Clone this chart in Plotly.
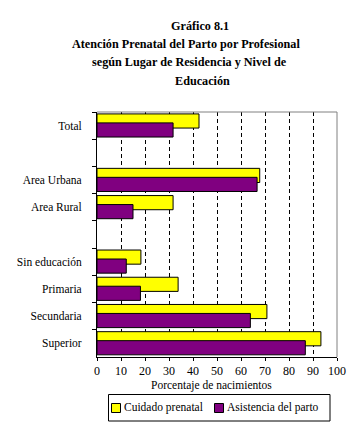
import plotly.graph_objects as go

categories = ["Total", " ", "Area Urbana", "Area Rural", "  ",
              "Sin educación", "Primaria", "Secundaria", "Superior"]
cuidado_prenatal = [42.5, None, 67.8, 31.7, None, 18.3, 33.8, 70.8, 93.3]
asistencia_parto = [31.7, None, 66.7, 15.0, None, 12.2, 18.1, 63.9, 86.8]
series_names = ["Cuidado prenatal", "Asistencia del parto"]
series_colors = ["#FFFF00", "#800080"]
x_ticks = list(range(0, 101, 10))
title_lines = ["Gráfico 8.1",
               "Atención Prenatal del Parto por Profesional",
               "según Lugar de Residencia y Nivel de",
               "Educación"]

# The page body adds an 8px offset, so the figure is drawn 8px smaller.
OFF = 8
W, H = 355 - OFF, 424 - OFF
ML, MT = 97 - OFF, 112 - OFF
PW, PH = 240, 245
MR, MB = W - ML - PW, H - MT - PH
SERIF = "Liberation Serif, Times New Roman, serif"


def px_x(x):
    """Convert a window x pixel to paper coordinates."""
    return (x - OFF - ML) / PW


def px_y(y):
    """Convert a window y pixel to paper coordinates."""
    return (H - MB - (y - OFF)) / PH


fig = go.Figure()
fig.add_trace(go.Bar(
    y=categories, x=cuidado_prenatal, orientation="h", name=series_names[0],
    marker=dict(color=series_colors[0], line=dict(color="black", width=1)),
    width=0.52, offset=-0.43,
))
fig.add_trace(go.Bar(
    y=categories, x=asistencia_parto, orientation="h", name=series_names[1],
    marker=dict(color=series_colors[1], line=dict(color="black", width=1)),
    width=0.52, offset=-0.10,
))

title_x = [200, 186, 189, 202]
title_y = [26, 44, 62, 81]
annotations = []
for t, tx, ty in zip(title_lines, title_x, title_y):
    annotations.append(dict(
        text="<b>" + t + "</b>", x=px_x(tx), y=px_y(ty), xref="paper", yref="paper",
        xanchor="center", yanchor="middle", showarrow=False,
        font=dict(family=SERIF, size=12.2, color="black")))
annotations.append(dict(
    text="Porcentaje de nacimientos", x=px_x(211), y=px_y(385), xref="paper", yref="paper",
    xanchor="center", yanchor="middle", showarrow=False,
    font=dict(family=SERIF, size=11.5, color="black")))

shapes = [
    dict(type="line", xref="x domain", yref="y domain", x0=0, x1=1, y0=1, y1=1,
         line=dict(color="#808080", width=1)),
    dict(type="line", xref="x domain", yref="y domain", x0=1, x1=1, y0=0, y1=1,
         line=dict(color="#808080", width=1)),
    # legend box
    dict(type="rect", xref="paper", yref="paper",
         x0=px_x(108.5), x1=px_x(330), y0=px_y(394.5), y1=px_y(421),
         line=dict(color="black", width=1), fillcolor="white"),
]
legend_sq_x = [111.5, 214.5]
legend_txt_x = [122, 225]
for name, color, sx, tx in zip(series_names, series_colors, legend_sq_x, legend_txt_x):
    shapes.append(dict(type="rect", xref="paper", yref="paper",
                       x0=px_x(sx), x1=px_x(sx + 9), y0=px_y(403.5), y1=px_y(412.5),
                       line=dict(color="black", width=1), fillcolor=color))
    annotations.append(dict(
        text=name, x=px_x(tx), y=px_y(407.5), xref="paper", yref="paper",
        xanchor="left", yanchor="middle", showarrow=False,
        font=dict(family=SERIF, size=11.5, color="black")))

fig.update_layout(
    width=W, height=H,
    margin=dict(l=ML, r=MR, t=MT, b=MB, pad=0, autoexpand=False),
    paper_bgcolor="white", plot_bgcolor="white",
    barmode="overlay",
    showlegend=False,
    annotations=annotations,
    font=dict(family=SERIF, size=12, color="black"),
    shapes=shapes,
)
fig.update_xaxes(
    range=[0, 100], tickvals=x_ticks, ticktext=[str(v) for v in x_ticks],
    showgrid=True, gridcolor="black", griddash="4px,3px", gridwidth=1,
    zeroline=False, showline=True, linecolor="black", linewidth=1,
    ticks="outside", ticklen=3, tickcolor="black", automargin=False,
    tickfont=dict(family=SERIF, size=12, color="black"),
    fixedrange=True,
)
fig.update_yaxes(
    type="category", categoryorder="array", categoryarray=categories,
    range=[8.5, -0.5], tickson="boundaries",
    showgrid=False, zeroline=False, showline=True, linecolor="black", linewidth=1,
    ticks="outside", ticklen=4, tickcolor="black", ticklabelstandoff=12,
    automargin=False,
    tickfont=dict(family=SERIF, size=11.5, color="black"),
    fixedrange=True,
)

fig.write_html("out.html")
